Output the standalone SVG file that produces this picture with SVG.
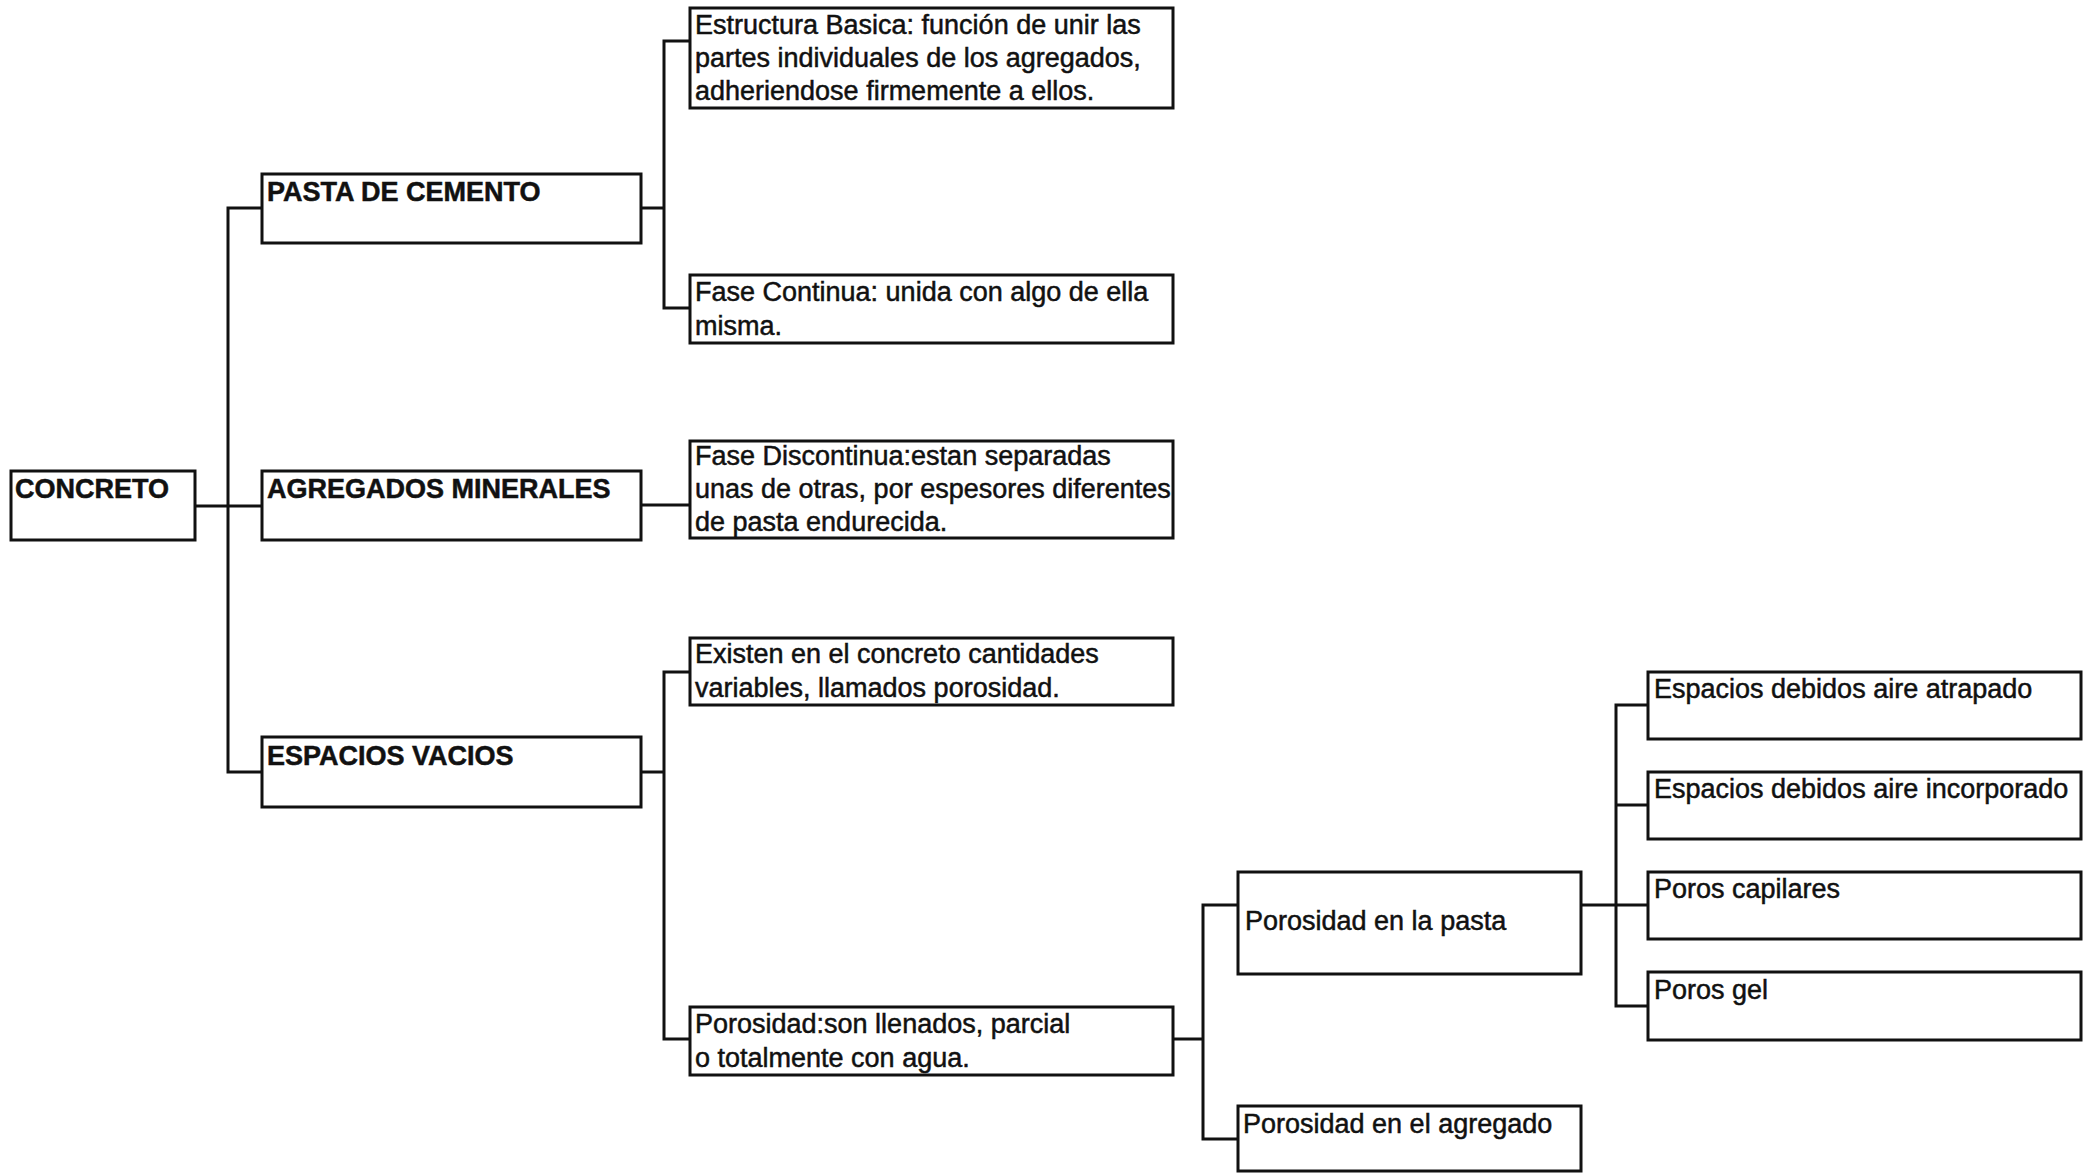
<svg xmlns="http://www.w3.org/2000/svg" width="2094" height="1173" viewBox="0 0 2094 1173">
<style>
.box{fill:#fff;stroke:#111;stroke-width:3}
.con{fill:none;stroke:#111;stroke-width:3}
text{font-family:"Liberation Sans",Arial,sans-serif;font-size:27px;fill:#111;stroke:#111;stroke-width:0.5}
.b{font-weight:bold}
</style>
<rect width="2094" height="1173" fill="#fff"/>
<g id="connectors">
<path class="con" d="M195 506H262"/>
<path class="con" d="M262 208H228V772H262"/>
<path class="con" d="M641 208H664"/>
<path class="con" d="M690 41H664V308H690"/>
<path class="con" d="M641 505H690"/>
<path class="con" d="M641 772H664"/>
<path class="con" d="M690 672H664V1039H690"/>
<path class="con" d="M1173 1039H1203"/>
<path class="con" d="M1238 905H1203V1139H1238"/>
<path class="con" d="M1581 905H1648"/>
<path class="con" d="M1648 705H1616V1006H1648"/>
<path class="con" d="M1616 805H1648"/>
</g>
<g id="concreto"><rect class="box" x="11" y="471" width="184" height="69"/><text class="b" x="15" y="498">CONCRETO</text></g>
<g id="pasta"><rect class="box" x="262" y="174" width="379" height="69"/><text class="b" x="267" y="201">PASTA DE CEMENTO</text></g>
<g id="agregados"><rect class="box" x="262" y="471" width="379" height="69"/><text class="b" x="267" y="498">AGREGADOS MINERALES</text></g>
<g id="espacios"><rect class="box" x="262" y="737" width="379" height="70"/><text class="b" x="267" y="765">ESPACIOS VACIOS</text></g>
<g id="estructura"><rect class="box" x="690" y="8" width="483" height="100"/>
<text x="695" y="34">Estructura Basica: función de unir las</text>
<text x="695" y="67">partes individuales de los agregados,</text>
<text x="695" y="100">adheriendose firmemente a ellos.</text></g>
<g id="fasecontinua"><rect class="box" x="690" y="275" width="483" height="68"/>
<text x="695" y="301">Fase Continua: unida con algo de ella</text>
<text x="695" y="335">misma.</text></g>
<g id="fasediscontinua"><rect class="box" x="690" y="441" width="483" height="97"/>
<text x="695" y="465">Fase Discontinua:estan separadas</text>
<text x="695" y="498">unas de otras, por espesores diferentes</text>
<text x="695" y="531">de pasta endurecida.</text></g>
<g id="existen"><rect class="box" x="690" y="638" width="483" height="67"/>
<text x="695" y="663">Existen en el concreto cantidades</text>
<text x="695" y="697">variables, llamados porosidad.</text></g>
<g id="porosidad"><rect class="box" x="690" y="1007" width="483" height="68"/>
<text x="695" y="1033">Porosidad:son llenados, parcial</text>
<text x="695" y="1067">o totalmente con agua.</text></g>
<g id="porpasta"><rect class="box" x="1238" y="872" width="343" height="102"/>
<text x="1245" y="930">Porosidad en la pasta</text></g>
<g id="poragregado"><rect class="box" x="1238" y="1106" width="343" height="65"/>
<text x="1243" y="1133">Porosidad en el agregado</text></g>
<g id="atrapado"><rect class="box" x="1648" y="672" width="433" height="67"/>
<text x="1654" y="698">Espacios debidos aire atrapado</text></g>
<g id="incorporado"><rect class="box" x="1648" y="772" width="433" height="67"/>
<text x="1654" y="798">Espacios debidos aire incorporado</text></g>
<g id="capilares"><rect class="box" x="1648" y="872" width="433" height="67"/>
<text x="1654" y="898">Poros capilares</text></g>
<g id="gel"><rect class="box" x="1648" y="972" width="433" height="68"/>
<text x="1654" y="999">Poros gel</text></g>
</svg>
